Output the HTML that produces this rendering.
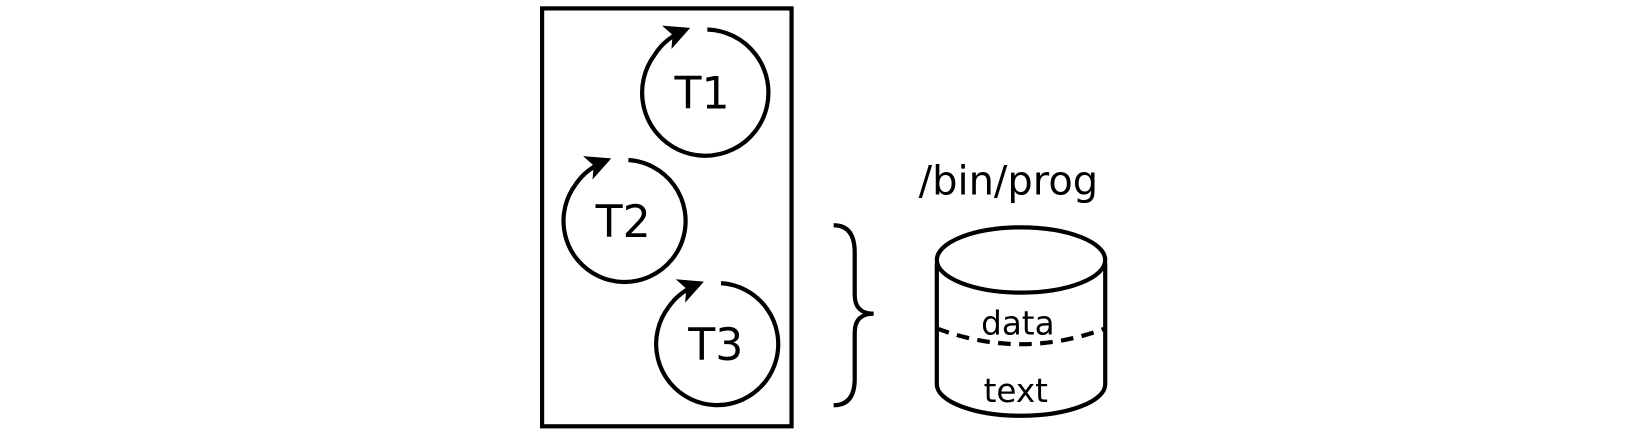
<!DOCTYPE html>
<html><head><meta charset="utf-8"><style>
html,body{margin:0;padding:0;background:#fff;width:1650px;height:432px;overflow:hidden}
svg text{font-family:"DejaVu Sans","Liberation Sans",sans-serif;fill:#000}
</style></head><body>
<svg width="1650" height="432" viewBox="0 0 1650 432">
<defs><marker id="ah" markerWidth="6" markerHeight="6" refX="5" refY="3" orient="auto" markerUnits="strokeWidth"><path d="M0,0 L6,3 L0,6 L1.5,3 Z" fill="#000"/></marker></defs>
<g transform="scale(1.0526)">
<rect x="515" y="8" width="237" height="397" fill="none" stroke="#000" stroke-width="4"/>
<g fill="none" stroke="#000" stroke-width="4">
<path d="M672,28 A60,60 0 1 1 622,52" />
<path d="M622,52 Q632,36 652,28" marker-end="url(#ah)"/>
</g>
<text x="667" y="103" font-size="42" text-anchor="middle">T1</text>
<g fill="none" stroke="#000" stroke-width="4">
<path d="M597,152 A58,58 0 1 1 547,175"/>
<path d="M547,175 Q557,160 577,152" marker-end="url(#ah)"/>
</g>
<text x="592" y="225" font-size="42" text-anchor="middle">T2</text>
<g fill="none" stroke="#000" stroke-width="4">
<path d="M685,269 A58,58 0 1 1 635,292"/>
<path d="M635,292 Q645,277 665,269" marker-end="url(#ah)"/>
</g>
<text x="680" y="342" font-size="42" text-anchor="middle">T3</text>
<path d="M792,214 Q812,214 812,240 L812,280 Q812,298 830,298 Q812,298 812,316 L812,360 Q812,385 792,385" fill="none" stroke="#000" stroke-width="4"/>
<text x="958" y="185" font-size="38" text-anchor="middle">/bin/prog</text>
<g fill="none" stroke="#000" stroke-width="4">
<ellipse cx="970" cy="247" rx="80" ry="31"/>
<path d="M890,250 L890,365 A80,30 0 0 0 1050,365 L1050,250"/>
<path d="M890,312 Q970,342 1050,312" stroke-dasharray="12,8"/>
</g>
<text x="967" y="318" font-size="31" text-anchor="middle">data</text>
<text x="965" y="382" font-size="31" text-anchor="middle">text</text>
</g>
</svg>
</body></html>
